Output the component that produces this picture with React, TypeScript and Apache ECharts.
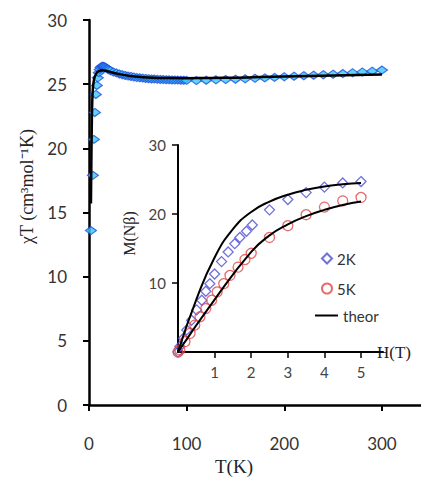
import React, { useEffect, useRef } from "react";
import * as echarts from "echarts";

// Main plot: chi*T vs T (experimental)
const tempK = [2, 4, 5, 6, 7, 8, 9, 10, 11, 12, 13, 14, 15, 16, 17, 18, 19, 20,
  22, 25, 28, 31, 34, 37, 40, 43, 46, 49, 52, 55, 58, 61, 64, 67, 70, 73, 76, 79, 82, 85, 88, 91, 94, 97, 100,
  110, 120, 130, 140, 150, 160, 170, 180, 190, 200, 210, 220, 230, 240, 250, 260, 270, 280, 290, 300];
const chiT = [13.6, 17.9, 20.7, 22.8, 24.2, 24.9, 25.5, 25.9, 26.15, 26.3, 26.38, 26.4, 26.38, 26.35, 26.3, 26.25, 26.2, 26.12,
  26.05, 25.95, 25.88, 25.8, 25.74, 25.68, 25.63, 25.6, 25.56, 25.52, 25.5, 25.47, 25.45, 25.43, 25.41, 25.4, 25.38, 25.37, 25.36, 25.35, 25.34, 25.33, 25.32, 25.32, 25.31, 25.31, 25.3,
  25.28, 25.31, 25.34, 25.36, 25.39, 25.42, 25.46, 25.49, 25.53, 25.58, 25.62, 25.66, 25.7, 25.74, 25.78, 25.83, 25.89, 25.95, 26.01, 26.1];

// Main plot: theory
const tempTheor = [2, 2.5, 3, 3.5, 4, 5, 6, 8, 10, 14, 18, 22, 26, 30, 40, 50, 60, 80, 100, 125, 150, 175, 200, 225, 250, 275, 300];
const chiTTheor = [15.7, 19.5, 22.5, 24.0, 24.7, 25.3, 25.6, 25.9, 26.02, 26.08, 26.03, 25.95, 25.87, 25.8, 25.66, 25.58, 25.53, 25.48, 25.47, 25.48, 25.51, 25.55, 25.59, 25.63, 25.67, 25.71, 25.75];

// Inset: M vs H
const field2K = [0, 0.05, 0.15, 0.24, 0.37, 0.51, 0.65, 0.76, 0.87, 1.0, 1.19, 1.37, 1.55, 1.69, 1.87, 2.03, 2.5, 3.0, 3.5, 4.0, 4.5, 5.0];
const mag2K = [0, 0.8, 2.0, 3.2, 4.6, 6.1, 7.5, 8.8, 9.9, 11.3, 13.1, 14.5, 15.7, 16.6, 17.5, 18.4, 20.6, 22.1, 23.1, 23.9, 24.5, 24.7];
const field5K = [0, 0.05, 0.19, 0.33, 0.46, 0.6, 0.76, 0.92, 1.07, 1.25, 1.42, 1.64, 1.83, 2.0, 2.5, 3.0, 3.5, 4.0, 4.5, 5.0];
const mag5K = [0, 0.3, 1.5, 2.7, 3.9, 5.1, 6.3, 7.5, 8.7, 9.9, 11.1, 12.3, 13.4, 14.3, 16.6, 18.3, 19.9, 21.0, 21.9, 22.4];
const fieldTheor2K = [0, 0.5, 1.0, 1.5, 2.0, 2.5, 3.0, 3.5, 4.0, 4.5, 5.0];
const magTheor2K = [0, 7.6, 13.7, 17.8, 20.3, 21.8, 22.8, 23.5, 24.0, 24.3, 24.5];
const fieldTheor5K = [0, 1.0, 2.0, 2.5, 3.0, 3.5, 4.0, 4.5, 5.0];
const magTheor5K = [0, 7.6, 14.5, 16.9, 18.5, 19.7, 20.6, 21.3, 21.8];

const mainXTicks = [0, 100, 200, 300];
const insetXTicks = [1, 2, 3, 4, 5];
const insetYTicks = [10, 20, 30];

const zip = (a: number[], b: number[]) => a.map((v, i) => [v, b[i]]);

const sans = "Lato";
const serif = "Liberation Serif";

export default function App() {
  const ref = useRef<HTMLDivElement>(null);
  useEffect(() => {
    if (!ref.current) return;
    const chart = echarts.init(ref.current, undefined, { renderer: "svg" });
    const legendText = { fontFamily: sans, fontSize: 15, color: "#333" };
    chart.setOption({
      animation: false,
      backgroundColor: "#fff",
      grid: [
        { left: 89, top: 20, width: 332, height: 395 },
        { left: 178, top: 145, width: 205, height: 207 },
      ],
      xAxis: [
        {
          gridIndex: 0, type: "value", min: 0, max: 340, interval: 100,
          axisLine: { show: true, onZero: false, lineStyle: { color: "#000", width: 2.5 } },
          axisTick: { show: true, length: 6, customValues: mainXTicks, lineStyle: { color: "#000", width: 2 } },
          axisLabel: { customValues: mainXTicks, margin: 30, fontSize: 17, color: "#333", fontFamily: sans },
          splitLine: { show: false },
          name: "T(K)", nameLocation: "middle", nameGap: 50,
          nameTextStyle: { fontFamily: serif, fontSize: 19, color: "#222", padding: [0, 42, 0, 0] },
        },
        {
          gridIndex: 1, type: "value", min: 0, max: 5.6, interval: 1,
          axisLine: { show: true, onZero: false, lineStyle: { color: "#000", width: 2 } },
          axisTick: { show: true, length: 6, customValues: insetXTicks, lineStyle: { color: "#000", width: 1.5 } },
          axisLabel: { customValues: insetXTicks, margin: 12, fontSize: 15, color: "#444", fontFamily: sans },
          splitLine: { show: false },
          name: "H(T)", nameLocation: "end", nameGap: -6,
          nameTextStyle: { fontFamily: serif, fontSize: 17, color: "#222", padding: [56, 0, 0, 0] },
        },
      ],
      yAxis: [
        {
          gridIndex: 0, type: "value", min: 0, max: 30, interval: 5,
          axisLine: { show: true, onZero: false, lineStyle: { color: "#000", width: 2.5 } },
          axisTick: { show: true, length: 6, lineStyle: { color: "#000", width: 2 } },
          axisLabel: { margin: 22, fontSize: 17, color: "#333", fontFamily: sans },
          splitLine: { show: false },
          name: "χT (cm³mol⁻¹K)", nameLocation: "middle", nameGap: 52,
          nameTextStyle: { fontFamily: serif, fontSize: 18, color: "#222", padding: [0, 0, 0, 52] },
        },
        {
          gridIndex: 1, type: "value", min: 0, max: 30, interval: 10,
          axisLine: { show: true, onZero: false, lineStyle: { color: "#000", width: 2 } },
          axisTick: { show: true, length: 6, customValues: insetYTicks, lineStyle: { color: "#000", width: 1.5 } },
          axisLabel: { customValues: insetYTicks, margin: 12, fontSize: 15, color: "#444", fontFamily: sans },
          splitLine: { show: false },
          name: "M(Nβ)", nameLocation: "middle", nameGap: 41,
          nameTextStyle: { fontFamily: serif, fontSize: 16, color: "#222", padding: [0, 0, 0, 30] },
        },
      ],
      legend: [
        { data: ["2K"], left: 316, top: 246, itemWidth: 10, itemHeight: 10, selectedMode: false, textStyle: legendText },
        { data: ["5K"], left: 316, top: 276, itemWidth: 10, itemHeight: 10, selectedMode: false, textStyle: legendText },
        { data: [{ name: "theor", icon: "rect" }], left: 310, top: 303, itemWidth: 23, itemHeight: 2, selectedMode: false, textStyle: legendText },
      ],
      series: [
        {
          name: "data", type: "scatter", xAxisIndex: 0, yAxisIndex: 0,
          data: zip(tempK, chiT), symbol: "diamond", symbolSize: [11, 8],
          itemStyle: { color: "#38c8f4", borderColor: "#1f4fe0", borderWidth: 1.2 }, z: 2,
        },
        {
          name: "theorMain", type: "line", xAxisIndex: 0, yAxisIndex: 0,
          data: zip(tempTheor, chiTTheor), symbol: "none", smooth: 0.3,
          lineStyle: { color: "#000", width: 2.5 }, z: 3,
        },
        {
          name: "2K", type: "scatter", xAxisIndex: 1, yAxisIndex: 1,
          data: zip(field2K, mag2K), symbol: "diamond", symbolSize: 10,
          itemStyle: { color: "rgba(255,255,255,0)", borderColor: "#4c4cd2", borderWidth: 1.3 }, z: 2,
        },
        {
          name: "5K", type: "scatter", xAxisIndex: 1, yAxisIndex: 1,
          data: zip(field5K, mag5K), symbol: "circle", symbolSize: 10,
          itemStyle: { color: "rgba(255,255,255,0)", borderColor: "#e04646", borderWidth: 1.3 }, z: 2,
        },
        {
          name: "theor", type: "line", xAxisIndex: 1, yAxisIndex: 1,
          data: zip(fieldTheor2K, magTheor2K), symbol: "none", smooth: true,
          lineStyle: { color: "#000", width: 2 }, itemStyle: { color: "#000" }, z: 3,
        },
        {
          name: "theor", type: "line", xAxisIndex: 1, yAxisIndex: 1,
          data: zip(fieldTheor5K, magTheor5K), symbol: "none", smooth: true,
          lineStyle: { color: "#000", width: 2 }, itemStyle: { color: "#000" }, z: 3,
        },
      ],
    });
    return () => chart.dispose();
  }, []);
  return <div ref={ref} style={{ position: "fixed", left: 0, top: 0, width: 421, height: 481 }} />;
}
